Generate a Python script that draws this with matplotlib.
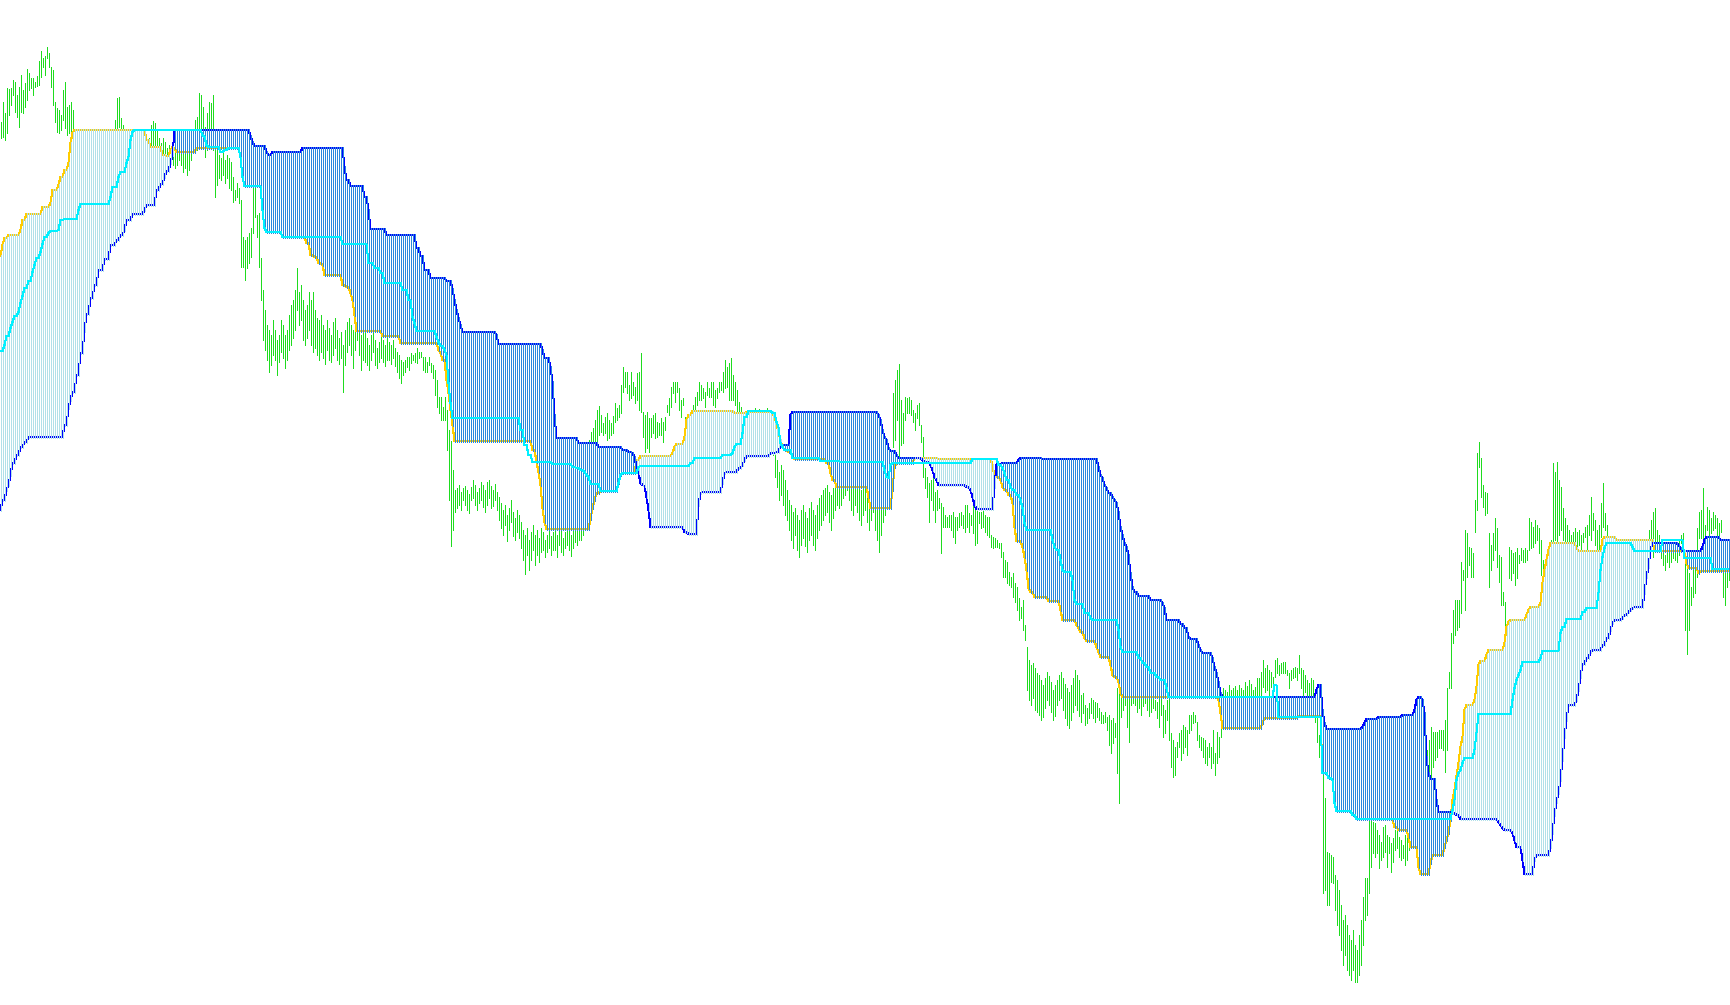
import numpy as np
import matplotlib
matplotlib.use('Agg')
import matplotlib.pyplot as plt

# price bars, one per column (points)
highs = [
    878, 898, 887, 912, 911, 912, 920, 918, 905, 913,
    925, 910, 917, 931, 927, 922, 922, 918, 924, 939,
    949, 942, 944, 953, 947, 933, 930, 898, 892, 890,
    885, 910, 918, 893, 895, 898, 890, 865, 860, 862,
    855, 850, 852, 860, 858, 862, 865, 860, 855, 850,
    854, 860, 864, 866, 862, 868, 869, 880, 902, 903,
    882, 875, 867, 865, 860, 862, 855, 858, 864, 867,
    862, 858, 855, 852, 862, 875, 879, 877, 870, 862,
    857, 862, 858, 852, 855, 852, 868, 860, 860, 855,
    858, 852, 855, 850, 852, 860, 870, 880, 883, 907,
    905, 893, 873, 887, 898, 897, 905, 852, 850, 845,
    842, 848, 840, 845, 842, 838, 823, 810, 817, 812,
    800, 763, 760, 763, 767, 772, 820, 813, 785, 787,
    742, 710, 690, 675, 670, 665, 680, 670, 660, 665,
    680, 675, 665, 670, 685, 695, 700, 710, 732, 708,
    715, 700, 690, 695, 708, 700, 708, 690, 682, 680,
    685, 675, 670, 680, 672, 665, 678, 682, 670, 662,
    668, 655, 670, 678, 682, 675, 670, 680, 684, 675,
    665, 672, 668, 662, 655, 665, 669, 660, 652, 658,
    665, 660, 655, 662, 658, 655, 660, 652, 648, 645,
    640, 638, 640, 643, 643, 647, 645, 647, 652, 648,
    648, 643, 643, 638, 643, 637, 635, 630, 620, 603,
    603, 593, 603, 590, 570, 559, 530, 510, 512, 515,
    508, 512, 514, 510, 506, 513, 520, 515, 508, 512,
    518, 515, 510, 518, 520, 514, 510, 516, 508, 503,
    497, 490, 495, 485, 492, 500, 488, 482, 490, 485,
    478, 470, 465, 472, 460, 468, 475, 465, 470, 462,
    472, 468, 460, 465, 470, 464, 468, 472, 465, 476,
    470, 462, 468, 474, 470, 465, 472, 478, 475, 480,
    485, 500, 520, 540, 560, 568, 572, 580, 590, 594,
    585, 577, 583, 587, 580, 577, 584, 597, 592, 595,
    615, 633, 628, 628, 615, 628, 618, 613, 627, 628,
    647, 588, 585, 588, 582, 582, 585, 587, 578, 577,
    582, 578, 583, 595, 602, 613, 618, 618, 618, 612,
    600, 602, 583, 583, 580, 588, 595, 603, 608, 618,
    615, 612, 608, 618, 612, 618, 618, 610, 612, 618,
    618, 628, 640, 633, 637, 642, 625, 618, 610, 598,
    593, 588, 585, 582, 580, 585, 588, 592, 590, 591,
    588, 584, 586, 592, 588, 580, 570, 547, 540, 528,
    535, 530, 520, 510, 500, 495, 488, 492, 485, 480,
    490, 495, 488, 482, 492, 498, 490, 485, 495, 502,
    505, 510, 512, 515, 508, 505, 512, 518, 522, 520,
    525, 530, 535, 542, 530, 522, 518, 525, 520, 514,
    510, 515, 518, 512, 505, 510, 515, 505, 498, 490,
    500, 508, 512, 520, 530, 545, 607, 620, 630, 636,
    600, 587, 603, 602, 603, 600, 590, 587, 595, 597,
    575, 563, 532, 523, 517, 520, 523, 508, 510, 502,
    497, 493, 485, 483, 485, 485, 488, 483, 483, 487,
    488, 485, 495, 495, 487, 485, 495, 492, 492, 488,
    488, 490, 485, 483, 483, 465, 463, 462, 460, 457,
    457, 448, 440, 438, 428, 423, 427, 417, 413, 402,
    393, 400, 375, 353, 340, 335, 337, 332, 327, 325,
    320, 315, 322, 328, 324, 318, 310, 315, 320, 325,
    328, 322, 316, 312, 308, 315, 322, 330, 325, 320,
    305, 307, 295, 292, 297, 302, 300, 298, 297, 292,
    288, 285, 288, 283, 285, 280, 282, 277, 312, 310,
    310, 312, 308, 305, 308, 310, 307, 309, 306, 308,
    305, 310, 307, 305, 310, 306, 304, 300, 298, 303,
    302, 295, 290, 300, 303, 267, 260, 253, 258, 267,
    270, 275, 273, 270, 285, 285, 288, 285, 278, 265,
    263, 262, 260, 253, 257, 253, 270, 247, 268, 263,
    277, 312, 310, 308, 315, 310, 312, 314, 310, 315,
    312, 310, 318, 314, 320, 316, 310, 313, 322, 322,
    328, 340, 332, 335, 330, 328, 323, 340, 342, 335,
    337, 338, 338, 330, 327, 330, 332, 333, 332, 345,
    332, 330, 325, 320, 317, 322, 320, 300, 285, 265,
    260, 227, 202, 148, 147, 145, 143, 125, 120, 110,
    95, 80, 85, 75, 65, 60, 70, 55, 50, 65,
    80, 103, 122, 122, 190, 180, 178, 177, 170, 165,
    158, 173, 175, 165, 163, 157, 162, 170, 170, 163,
    160, 155, 165, 170, 175, 185, 195, 200, 210, 215,
    220, 230, 240, 250, 260, 273, 268, 268, 268, 270,
    270, 270, 280, 312, 328, 367, 390, 400, 400, 400,
    438, 430, 470, 467, 453, 452, 447, 500, 547, 558,
    542, 515, 508, 507, 467, 455, 467, 482, 472, 445,
    443, 408, 398, 378, 453, 450, 447, 448, 452, 445,
    452, 450, 452, 450, 482, 478, 473, 480, 475, 472,
    460, 440, 435, 445, 455, 460, 537, 528, 538, 520,
    513, 492, 482, 475, 470, 465, 468, 472, 468, 470,
    465, 467, 473, 475, 485, 503, 487, 480, 470, 475,
    497, 517, 487, 475, 455, 450, 452, 445, 440, 448,
    455, 452, 445, 440, 435, 442, 450, 455, 452, 448,
    455, 458, 455, 460, 470, 480, 488, 492, 470, 465,
    455, 448, 445, 452, 447, 452, 450, 452, 448, 460,
    465, 467, 447, 445, 427, 413, 430, 448, 472, 488,
    490, 512, 475, 493, 490, 482, 488, 485, 482, 477,
    480, 440, 430, 440, 437,
]
lows = [
    862, 863, 860, 867, 885, 895, 905, 888, 883, 873,
    888, 887, 893, 900, 910, 912, 905, 913, 914, 915,
    923, 933, 925, 942, 933, 913, 895, 878, 868, 867,
    870, 880, 872, 865, 867, 863, 860, 840, 835, 842,
    830, 828, 832, 838, 835, 842, 845, 840, 832, 830,
    837, 842, 848, 850, 845, 852, 855, 865, 868, 873,
    865, 860, 850, 845, 840, 842, 835, 840, 848, 850,
    844, 840, 842, 838, 842, 845, 848, 850, 848, 845,
    842, 840, 843, 835, 842, 838, 835, 832, 835, 840,
    835, 828, 832, 825, 830, 840, 850, 852, 850, 860,
    868, 857, 843, 850, 857, 860, 850, 803, 815, 822,
    820, 825, 817, 822, 812, 810, 798, 800, 803, 797,
    733, 733, 720, 732, 737, 743, 767, 783, 763, 733,
    700, 660, 650, 640, 628, 635, 645, 640, 625, 638,
    648, 642, 632, 640, 650, 655, 662, 670, 690, 675,
    680, 660, 655, 662, 670, 655, 648, 652, 645, 640,
    648, 642, 636, 650, 640, 638, 645, 652, 640, 636,
    642, 608, 635, 648, 655, 645, 632, 650, 660, 645,
    630, 640, 638, 635, 630, 640, 648, 635, 632, 638,
    642, 638, 634, 640, 640, 636, 642, 634, 628, 622,
    617, 625, 628, 633, 630, 637, 640, 638, 637, 642,
    643, 630, 628, 628, 635, 628, 622, 605, 593, 587,
    580, 580, 580, 550, 500, 454, 470, 488, 492, 495,
    490, 500, 495, 490, 487, 500, 502, 495, 490, 497,
    500, 493, 488, 495, 502, 492, 494, 500, 490, 480,
    472, 465, 475, 459, 470, 478, 464, 460, 468, 462,
    452, 440, 426, 445, 430, 440, 450, 435, 445, 438,
    448, 450, 443, 448, 452, 445, 450, 450, 443, 455,
    448, 445, 452, 455, 450, 444, 452, 458, 455, 460,
    460, 465, 480, 500, 520, 540, 557, 557, 558, 565,
    568, 565, 567, 560, 562, 565, 567, 578, 580, 583,
    587, 608, 613, 607, 600, 602, 605, 597, 600, 590,
    588, 563, 548, 552, 548, 563, 567, 562, 563, 565,
    565, 558, 570, 588, 585, 593, 607, 598, 608, 590,
    583, 595, 568, 565, 560, 570, 575, 590, 595, 600,
    600, 602, 593, 605, 603, 603, 595, 593, 602, 608,
    610, 608, 612, 613, 600, 600, 600, 595, 588, 583,
    587, 560, 555, 550, 552, 560, 565, 570, 562, 560,
    555, 552, 558, 564, 560, 550, 545, 523, 513, 500,
    505, 495, 485, 480, 470, 460, 452, 465, 450, 443,
    455, 462, 454, 448, 460, 465, 455, 450, 462, 470,
    475, 480, 485, 488, 478, 470, 482, 490, 495, 492,
    495, 502, 505, 510, 500, 490, 485, 495, 488, 480,
    475, 485, 490, 478, 470, 480, 488, 470, 460, 448,
    465, 478, 485, 495, 500, 515, 553, 560, 580, 543,
    555, 557, 580, 587, 587, 585, 578, 570, 582, 575,
    558, 523, 512, 503, 478, 500, 490, 478, 490, 492,
    447, 473, 473, 473, 473, 470, 463, 457, 470, 473,
    475, 472, 468, 473, 468, 475, 467, 455, 457, 477,
    472, 473, 468, 465, 463, 453, 452, 453, 453, 452,
    443, 423, 423, 417, 415, 413, 403, 398, 390, 380,
    382, 370, 360, 310, 300, 295, 302, 290, 288, 285,
    280, 283, 292, 300, 295, 288, 280, 284, 295, 300,
    302, 290, 282, 275, 272, 280, 288, 295, 290, 284,
    278, 287, 275, 277, 282, 287, 282, 278, 283, 280,
    277, 277, 278, 270, 255, 247, 257, 263, 227, 197,
    283, 290, 295, 273, 258, 295, 297, 295, 288, 292,
    285, 294, 297, 290, 284, 288, 292, 290, 282, 273,
    285, 263, 267, 280, 260, 233, 223, 225, 243, 253,
    240, 247, 253, 245, 267, 270, 277, 278, 260, 253,
    250, 243, 237, 235, 243, 232, 237, 225, 237, 243,
    263, 280, 285, 278, 290, 282, 288, 290, 280, 295,
    288, 284, 292, 288, 295, 290, 282, 300, 303, 300,
    305, 313, 308, 310, 305, 313, 307, 323, 327, 325,
    327, 327, 327, 325, 312, 320, 322, 323, 320, 327,
    312, 303, 308, 305, 303, 305, 295, 278, 258, 243,
    230, 107, 110, 95, 95, 118, 117, 90, 75, 65,
    50, 35, 45, 30, 25, 20, 30, 18, 18, 25,
    35, 55, 80, 85, 107, 133, 147, 143, 147, 132,
    140, 143, 148, 133, 147, 128, 138, 150, 152, 143,
    140, 142, 135, 140, 150, 155, 165, 170, 175, 180,
    185, 200, 205, 215, 220, 223, 233, 240, 243, 252,
    252, 250, 228, 250, 312, 312, 357, 365, 370, 373,
    387, 420, 390, 423, 435, 423, 423, 468, 490, 533,
    503, 493, 485, 487, 413, 430, 440, 450, 433, 418,
    395, 395, 375, 372, 422, 420, 427, 415, 422, 437,
    440, 438, 438, 440, 450, 452, 453, 457, 460, 447,
    425, 400, 390, 410, 415, 425, 458, 460, 458, 465,
    470, 460, 457, 452, 445, 440, 442, 457, 452, 455,
    450, 458, 463, 450, 465, 460, 470, 455, 445, 448,
    463, 473, 470, 458, 425, 420, 428, 415, 410, 420,
    430, 425, 418, 405, 400, 415, 425, 430, 432, 425,
    435, 440, 438, 442, 445, 450, 443, 448, 457, 450,
    442, 435, 430, 438, 433, 438, 442, 440, 438, 445,
    457, 455, 370, 346, 370, 395, 403, 407, 423, 462,
    462, 460, 460, 470, 463, 467, 470, 472, 465, 463,
    468, 403, 395, 413, 420,
]

# step lines as (first bar, level)
span_a = [
    (0, 744), (1, 755), (2, 762), (4, 765), (10, 770), (11, 780), (13, 786), (21, 793),
    (25, 797), (26, 810), (29, 815), (30, 823), (32, 830), (34, 837), (35, 857), (36, 867),
    (37, 870), (73, 860), (75, 853), (81, 845), (83, 844), (85, 850), (86, 853), (87, 852),
    (88, 848), (98, 852), (120, 843), (121, 823), (122, 814), (131, 790), (132, 772),
    (133, 768), (141, 763), (153, 757), (155, 745), (157, 743), (159, 737), (161, 735),
    (162, 725), (171, 715), (173, 713), (175, 707), (176, 700), (177, 685), (178, 669),
    (191, 664), (200, 657), (219, 650), (220, 647), (221, 640), (223, 620), (224, 607),
    (225, 590), (226, 575), (227, 559), (266, 550), (268, 538), (269, 528), (270, 515),
    (271, 492), (272, 478), (273, 471), (295, 481), (296, 492), (297, 500), (298, 507),
    (300, 509), (309, 517), (310, 525), (311, 527), (318, 540), (320, 544), (336, 547),
    (337, 553), (338, 556), (342, 563), (343, 580), (344, 585), (346, 589), (367, 587),
    (373, 588), (387, 582), (388, 577), (389, 567), (390, 560), (391, 553), (392, 550),
    (394, 548), (396, 543), (397, 541), (413, 537), (415, 527), (416, 520), (418, 513),
    (434, 503), (435, 492), (446, 510), (447, 533), (448, 537), (457, 542), (469, 541),
    (496, 535), (497, 523), (500, 520), (501, 513), (502, 510), (504, 505), (506, 497),
    (507, 473), (508, 459), (511, 453), (512, 443), (513, 430), (514, 412), (515, 408),
    (517, 403), (524, 399), (530, 390), (531, 380), (538, 375), (539, 372), (540, 368),
    (542, 362), (543, 359), (548, 353), (549, 348), (550, 343), (555, 335), (556, 325),
    (557, 323), (559, 318), (560, 307), (561, 303), (609, 300), (610, 287), (611, 272),
    (631, 277), (632, 282), (649, 284), (661, 227), (664, 222), (666, 220), (667, 197),
    (668, 189), (676, 185), (678, 181), (696, 180), (697, 173), (699, 170), (704, 163),
    (705, 153), (709, 133), (710, 126), (715, 137), (716, 145), (722, 153), (723, 160),
    (724, 167), (725, 180), (726, 200), (727, 210), (728, 224), (729, 237), (730, 253),
    (731, 263), (732, 290), (733, 295), (737, 300), (738, 313), (739, 335), (740, 339),
    (743, 345), (744, 350), (752, 357), (753, 373), (754, 378), (755, 380), (763, 385),
    (764, 390), (765, 393), (770, 397), (771, 417), (772, 430), (773, 440), (774, 450),
    (775, 457), (788, 452), (789, 449), (801, 460), (802, 463), (808, 460), (827, 449),
    (843, 437), (844, 432), (849, 427), (850, 429),
]
kijun = [
    (0, 649), (2, 655), (3, 664), (5, 672), (6, 678), (7, 684), (9, 688), (10, 697),
    (11, 704), (12, 712), (14, 719), (16, 728), (17, 735), (18, 742), (20, 748), (21, 756),
    (22, 763), (24, 767), (25, 769), (29, 770), (30, 780), (32, 781), (39, 790), (40, 796),
    (55, 803), (56, 813), (59, 823), (60, 828), (63, 837), (64, 843), (65, 860), (66, 868),
    (67, 870), (101, 865), (102, 863), (103, 855), (104, 853), (110, 848), (112, 850),
    (114, 852), (120, 843), (121, 823), (122, 814), (131, 790), (132, 772), (133, 768),
    (141, 763), (171, 756), (184, 737), (187, 732), (190, 727), (192, 717), (201, 710),
    (204, 700), (206, 683), (207, 677), (208, 669), (218, 663), (219, 658), (220, 654),
    (222, 650), (223, 645), (224, 617), (225, 597), (226, 582), (260, 570), (262, 555),
    (264, 545), (266, 538), (276, 536), (286, 533), (288, 532), (290, 530), (292, 528),
    (293, 525), (294, 523), (295, 516), (300, 509), (309, 517), (310, 525), (311, 527),
    (319, 533), (320, 534), (345, 537), (347, 542), (361, 545), (366, 547), (367, 553),
    (368, 556), (371, 567), (372, 583), (374, 589), (386, 587), (388, 578), (389, 573),
    (390, 557), (391, 553), (392, 550), (396, 542), (410, 539), (420, 538), (442, 530),
    (443, 523), (444, 522), (445, 535), (446, 537), (486, 541), (499, 535), (501, 532),
    (502, 527), (503, 520), (505, 513), (506, 510), (508, 505), (510, 500), (511, 492),
    (512, 477), (513, 470), (526, 460), (527, 453), (528, 450), (530, 440), (531, 430),
    (532, 428), (536, 420), (537, 400), (538, 396), (542, 387), (545, 382), (546, 380),
    (559, 370), (560, 353), (561, 348), (569, 342), (571, 337), (573, 333), (575, 327),
    (578, 323), (580, 320), (583, 312), (584, 303), (637, 315), (639, 283), (661, 227),
    (664, 222), (666, 220), (667, 197), (668, 189), (676, 185), (678, 181), (726, 190),
    (727, 200), (728, 220), (729, 227), (730, 230), (731, 237), (732, 242), (737, 250),
    (738, 267), (739, 286), (756, 300), (757, 312), (758, 320), (759, 325), (760, 330),
    (761, 338), (770, 342), (771, 349), (780, 367), (781, 373), (783, 381), (791, 388),
    (793, 392), (799, 407), (800, 430), (801, 443), (802, 452), (803, 457), (816, 453),
    (817, 449), (831, 460), (842, 442), (856, 431),
]
span_b = [
    (0, 490), (1, 500), (3, 510), (4, 515), (5, 525), (6, 537), (8, 545), (10, 553),
    (12, 558), (14, 563), (32, 575), (34, 592), (35, 600), (36, 608), (38, 625), (40, 647),
    (42, 669), (43, 686), (45, 702), (47, 715), (49, 730), (52, 741), (55, 755), (58, 760),
    (60, 765), (62, 770), (63, 780), (66, 786), (72, 790), (73, 795), (78, 810), (80, 816),
    (82, 823), (83, 829), (85, 837), (86, 845), (87, 870), (125, 864), (126, 858),
    (127, 854), (133, 848), (134, 845), (136, 848), (151, 852), (172, 833), (173, 820),
    (175, 814), (182, 803), (184, 790), (185, 771), (193, 765), (208, 752), (210, 744),
    (212, 730), (215, 722), (223, 719), (226, 711), (227, 700), (228, 690), (229, 682),
    (230, 675), (231, 668), (248, 665), (249, 656), (271, 650), (272, 642), (275, 633),
    (276, 618), (277, 585), (278, 562), (289, 557), (299, 553), (311, 550), (314, 548),
    (316, 547), (317, 543), (318, 533), (319, 527), (320, 517), (321, 515), (322, 514),
    (323, 503), (324, 490), (325, 473), (342, 468), (344, 466), (349, 495), (350, 507),
    (351, 508), (361, 517), (362, 527), (363, 528), (369, 532), (371, 535), (372, 540),
    (373, 544), (385, 547), (388, 548), (390, 555), (395, 585), (396, 588), (439, 585),
    (440, 580), (441, 570), (442, 563), (443, 560), (444, 552), (445, 549), (448, 545),
    (449, 542), (461, 540), (462, 538), (465, 535), (466, 530), (467, 523), (468, 520),
    (469, 515), (483, 513), (485, 510), (486, 503), (487, 495), (488, 491), (497, 513),
    (498, 536), (501, 537), (509, 540), (510, 542), (521, 541), (549, 533), (550, 525),
    (551, 522), (552, 515), (553, 512), (554, 507), (556, 503), (557, 500), (558, 497),
    (559, 488), (560, 473), (561, 465), (562, 457), (563, 453), (564, 445), (565, 427),
    (566, 413), (567, 408), (569, 404), (575, 400), (581, 397), (582, 392), (583, 380),
    (590, 376), (592, 372), (594, 363), (595, 361), (599, 355), (600, 350), (601, 347),
    (606, 342), (607, 333), (608, 327), (609, 318), (610, 307), (611, 303), (658, 310),
    (659, 315), (661, 290), (662, 277), (663, 271), (681, 273), (682, 277), (683, 281),
    (689, 283), (701, 285), (707, 290), (708, 300), (709, 303), (711, 300), (712, 287),
    (713, 243), (714, 227), (715, 221), (718, 200), (719, 188), (726, 187), (728, 185),
    (730, 181), (749, 178), (750, 175), (751, 172), (752, 170), (756, 167), (757, 160),
    (758, 153), (761, 140), (762, 126), (767, 140), (768, 145), (775, 153), (776, 167),
    (777, 185), (778, 198), (779, 207), (780, 220), (781, 240), (782, 263), (783, 280),
    (784, 295), (788, 300), (789, 310), (790, 323), (791, 336), (793, 342), (795, 348),
    (796, 350), (801, 355), (803, 362), (805, 370), (806, 377), (807, 380), (811, 382),
    (812, 385), (814, 388), (815, 390), (816, 392), (817, 393), (822, 407), (823, 423),
    (824, 433), (825, 450), (826, 457), (839, 455), (840, 452), (841, 449), (851, 453),
    (852, 460), (853, 463), (860, 460),
]


def per_bar(steps, n):
    starts = [s for s, _ in steps]
    levels = [v for _, v in steps]
    return np.repeat(levels, np.diff(starts + [n])).astype(float)


n = len(highs)
x = np.arange(n)
a = per_bar(span_a, n)
b = per_bar(span_b, n)
k = per_bar(kijun, n)

fig = plt.figure(figsize=(17.3, 10.05), dpi=100)
ax = fig.add_axes([0, 0, 1, 1])
ax.set_xlim(-0.25, n - 0.25)
ax.set_ylim(-5, 1000)
ax.axis('off')

px = 72.0 / fig.dpi

ax.vlines(x, lows, highs, colors='#1fdc1f', linewidth=px, antialiased=False, zorder=1)
ax.plot(x, a, color='#ffcc00', lw=px, antialiased=False, zorder=2)
ax.plot(x, b, color='#0000ff', lw=px, antialiased=False, zorder=2)

# cloud hatch, one column per bar, drawn over the span lines
up = a >= b
lo = np.minimum(a, b) - 1.0
hi = np.maximum(a, b) + 1.0
ax.vlines(x[up], lo[up], hi[up], colors='#b0e0e8', linewidth=px, antialiased=False, zorder=3)
ax.vlines(x[~up], lo[~up], hi[~up], colors='#2a88dc', linewidth=px, antialiased=False, zorder=3)

ax.plot(x, k, color='#00f0ff', lw=px, antialiased=False, zorder=4)

fig.savefig('out.png', dpi=100, facecolor='white')
